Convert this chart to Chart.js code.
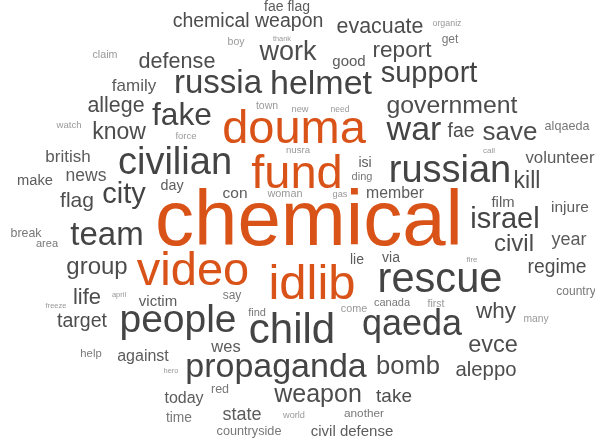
<!DOCTYPE html>
<html>
<head>
<meta charset="utf-8">
<script src="https://cdn.jsdelivr.net/npm/chart.js@4/dist/chart.umd.min.js"></script>
<style>
  html, body { margin: 0; padding: 0; background: #fff; }
  #cloud { display: block; }
</style>
</head>
<body>
<canvas id="cloud" width="595" height="446"></canvas>
<script>
// words of the cloud, where each one sits (x = centre, y = baseline) and its weight (font px)
const words = ["chemical","douma","fund","video","idlib",
  "fae flag","chemical weapon","evacuate","organiz","boy","thank","get","claim","work","defense",
  "good","report","support","russia","helmet","family","government","town","new","need",
  "allege","fake","war","fae","save","alqaeda","watch","know","force","call",
  "british","civilian","make","news","day","city","flag","con","woman","nusra",
  "isi","ding","gas","member","russian","kill","volunteer","film","injure","israel",
  "civil","year","break","area","team","group","lie","via","fire","regime",
  "rescue","country","life","april","freeze","victim","say","canada","first","come",
  "find","target","people","child","qaeda","why","many","wes","evce","help",
  "against","propaganda","bomb","aleppo","hero","red","today","weapon","take","time",
  "state","world","another","countryside","civil defense"];
const wordX = [309,294,297,193,312,
  287,248,380,447,236,282,450,105,288,177,
  349,402,429,218,321,134,452,267,300,340,
  116,182,414,461,510,567,69,119,186,489,
  68,175,35,86,172,124,77,235,285,298,
  365,362,340,395,450,527,560,503,570,505,
  514,569,26,47,107,97,357,391,472,557,
  440,576,87,119,56,158,232,392,436,354,
  257,82,178,292,412,496,536,226,493,91,
  143,276,408,486,171,220,184,318,394,179,
  242,294,364,249,352];
const wordY = [245,143,188,285,299,
  11,27,33,26,45,41,43,58,60,68,
  66,57,82,93,94,91,113,109,112,112,
  112,125,140,137,140,130,128,139,139,153,
  162,174,185,181,190,203,207,198,197,153,
  167,180,197,198,182,188,163,207,212,228,
  251,245,237,247,245,274,264,262,262,273,
  292,295,304,297,308,306,299,306,307,312,
  316,327,332,343,335,318,322,352,352,357,
  361,377,374,376,373,393,403,402,402,422,
  420,418,417,435,436];
const wordSize = [78,47,47,47,49,
  14,19.5,21.4,8.9,10.5,7.4,12,10.7,27,21.6,
  15,22.6,29,33,34,17,24.8,10.5,9.3,8.5,
  21.4,31.7,34,19.4,26,12.6,9.6,23,9.5,8,
  17,38,14.7,17.5,14.3,29,21,15.5,10.9,9.6,
  14,11,9.3,15.8,38,23,16.8,14.8,15.5,29,
  24,18,12.4,11,33,24,14,14,8,19.3,
  41.6,12,22,7.5,7.5,15,12,11,10.5,10.8,
  11,19.5,39,42,36,22.5,10.3,16.5,23.5,11.3,
  16,34,25.6,20.3,7.5,12.5,16,25,19,13.8,
  18,9.2,11.8,12.7,15];

const FONT = '"Liberation Sans", Arial, Helvetica, sans-serif';

function wordColor(size) {
  if (size >= 45) return "#d95319";
  if (size >= 28) return "#444444";
  if (size >= 19) return "#4d4d4d";
  if (size >= 14) return "#5c5c5c";
  if (size >= 11) return "#787878";
  return "#999999";
}

const wordPlugin = {
  id: "wordText",
  afterDatasetsDraw(chart) {
    const ctx = chart.ctx;
    const meta = chart.getDatasetMeta(0);
    ctx.save();
    ctx.textAlign = "center";
    ctx.textBaseline = "alphabetic";
    meta.data.forEach((pt, i) => {
      ctx.font = wordSize[i] + "px " + FONT;
      ctx.fillStyle = wordColor(wordSize[i]);
      ctx.fillText(words[i], pt.x, pt.y);
    });
    ctx.restore();
  }
};

const ctx = document.getElementById("cloud");

new Chart(ctx, {
  type: "scatter",
  data: {
    datasets: [{
      data: words.map((w, i) => ({ x: wordX[i], y: wordY[i] })),
      pointRadius: 0,
      pointHoverRadius: 0
    }]
  },
  options: {
    responsive: false,
    animation: false,
    layout: { padding: 0 },
    plugins: { legend: { display: false }, tooltip: { enabled: false } },
    scales: {
      x: { type: "linear", min: 0, max: 595, display: false },
      y: { type: "linear", min: 0, max: 446, reverse: true, display: false }
    }
  },
  plugins: [wordPlugin]
});
</script>
</body>
</html>
